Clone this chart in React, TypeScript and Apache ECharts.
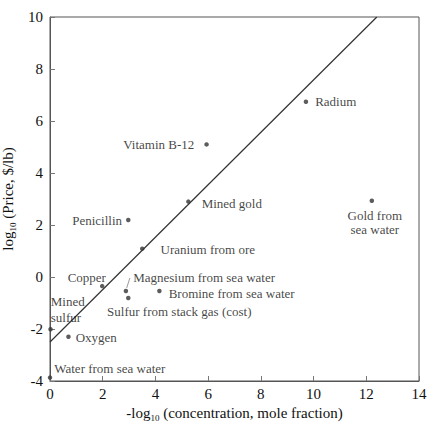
import React, { useEffect, useRef } from "react";
import * as echarts from "echarts";

// Substance positions: -log10(mole fraction) vs log10(price, $/lb)
const names = [
  "Vitamin B-12",
  "Radium",
  "Mined gold",
  "Penicillin",
  "Uranium from ore",
  "Copper",
  "Magnesium from sea water",
  "Sulfur from stack gas (cost)",
  "Bromine from sea water",
  "Mined\nsulfur",
  "Oxygen",
  "Water from sea water",
  "Gold from\nsea water",
];
const concentration = [5.94, 9.71, 5.25, 2.97, 3.5, 1.98, 2.88, 2.97, 4.15, 0.02, 0.7, 0.0, 12.21];
const price = [5.1, 6.74, 2.9, 2.19, 1.09, -0.35, -0.54, -0.81, -0.54, -2.01, -2.3, -3.87, 2.93];

// Trend line endpoints
const trendX = [0, 12.4];
const trendY = [-2.5, 10];

const xTicks = { min: 0, max: 14, interval: 2 };
const yTicks = { min: -4, max: 10, interval: 2 };

const FONT = "Liberation Serif";
const INK = "#111";

// Per-point label placement
const labelPlacement: Record<string, any> = {
  "Vitamin B-12": { position: "left", distance: 10 },
  Radium: { position: "right", distance: 7 },
  "Mined gold": { position: "right", distance: 11, offset: [0, 2] },
  Penicillin: { position: "left", distance: 4 },
  "Uranium from ore": { position: "right", distance: 16, offset: [0, 1] },
  Copper: { position: "left", distance: 0, offset: [6, -9] },
  "Magnesium from sea water": { position: "right", distance: 5, offset: [0, -14] },
  "Sulfur from stack gas (cost)": { position: "bottom", distance: 5, offset: [51, 0] },
  "Bromine from sea water": { position: "right", distance: 7, offset: [0, 2] },
  "Mined\nsulfur": { position: "right", distance: 0, offset: [-2, -20], align: "left", lineHeight: 15.5 },
  Oxygen: { position: "right", distance: 5, offset: [0, 1] },
  "Water from sea water": { position: "right", distance: 2, offset: [0, -9] },
  "Gold from\nsea water": { position: "bottom", distance: 5, offset: [3, 0], align: "center", lineHeight: 14.5 },
};

export default function App() {
  const ref = useRef<HTMLDivElement>(null);

  useEffect(() => {
    if (!ref.current) return;
    const chart = echarts.init(ref.current, undefined, { renderer: "svg" });

    const points = names.map((n, i) => ({
      name: n,
      value: [concentration[i], price[i]],
      label: labelPlacement[n],
    }));

    // Short leader from the magnesium label down to its point
    const mgIdx = names.indexOf("Magnesium from sea water");

    chart.setOption({
      animation: false,
      backgroundColor: "#ffffff",
      grid: {
        left: 50,
        right: 14,
        top: 17,
        bottom: 45,
        outerBoundsMode: "none",
        show: true,
        borderColor: "#555",
        borderWidth: 1,
        backgroundColor: "transparent",
      },
      xAxis: {
        type: "value",
        ...xTicks,
        name: "-log{sub|10} (concentration, mole fraction)",
        nameLocation: "middle",
        nameGap: 23,
        nameTextStyle: {
          fontFamily: FONT,
          fontSize: 15,
          color: INK,
          rich: {
            sub: { fontFamily: FONT, fontSize: 9, color: INK, padding: [9, 0, 0, 0] },
          },
        },
        axisLine: { show: true, onZero: false, lineStyle: { color: "#555", width: 1 } },
        axisTick: { show: true, inside: true, length: 5, lineStyle: { color: "#777" } },
        axisLabel: { fontFamily: FONT, fontSize: 15, color: INK, margin: 5 },
        splitLine: { show: false },
      },
      yAxis: {
        type: "value",
        ...yTicks,
        name: "log{sub|10} (Price, $/lb)",
        nameLocation: "middle",
        nameRotate: 90,
        nameGap: 33,
        nameTextStyle: {
          fontFamily: FONT,
          fontSize: 15,
          color: INK,
          rich: {
            sub: { fontFamily: FONT, fontSize: 9, color: INK, padding: [9, 0, 0, 0] },
          },
        },
        axisLine: { show: true, onZero: false, lineStyle: { color: "#555", width: 1 } },
        axisTick: { show: true, inside: true, length: 5, lineStyle: { color: "#777" } },
        axisLabel: { fontFamily: FONT, fontSize: 15, color: INK, margin: 7 },
        splitLine: { show: false },
      },
      series: [
        {
          type: "line",
          data: trendX.map((x, i) => [x, trendY[i]]),
          symbol: "none",
          lineStyle: { color: "#333", width: 1.2 },
          silent: true,
          z: 1,
        },
        {
          type: "scatter",
          data: points,
          symbolSize: 4.5,
          itemStyle: { color: "#333" },
          clip: false,
          label: {
            show: true,
            formatter: "{b}",
            fontFamily: FONT,
            fontSize: 13,
            color: INK,
          },
          z: 2,
        },
        {
          type: "lines",
          coordinateSystem: "cartesian2d",
          silent: true,
          lineStyle: { color: "#333", width: 1 },
          data: [
            {
              coords: [
                [concentration[mgIdx] + 0.15, price[mgIdx] + 0.5],
                [concentration[mgIdx] + 0.03, price[mgIdx] + 0.12],
              ],
            },
          ],
          z: 2,
        },
      ],
    });

    return () => chart.dispose();
  }, []);

  return (
    <div
      ref={ref}
      style={{ position: "fixed", left: 0, top: 0, width: 433, height: 426, background: "#fff" }}
    />
  );
}
